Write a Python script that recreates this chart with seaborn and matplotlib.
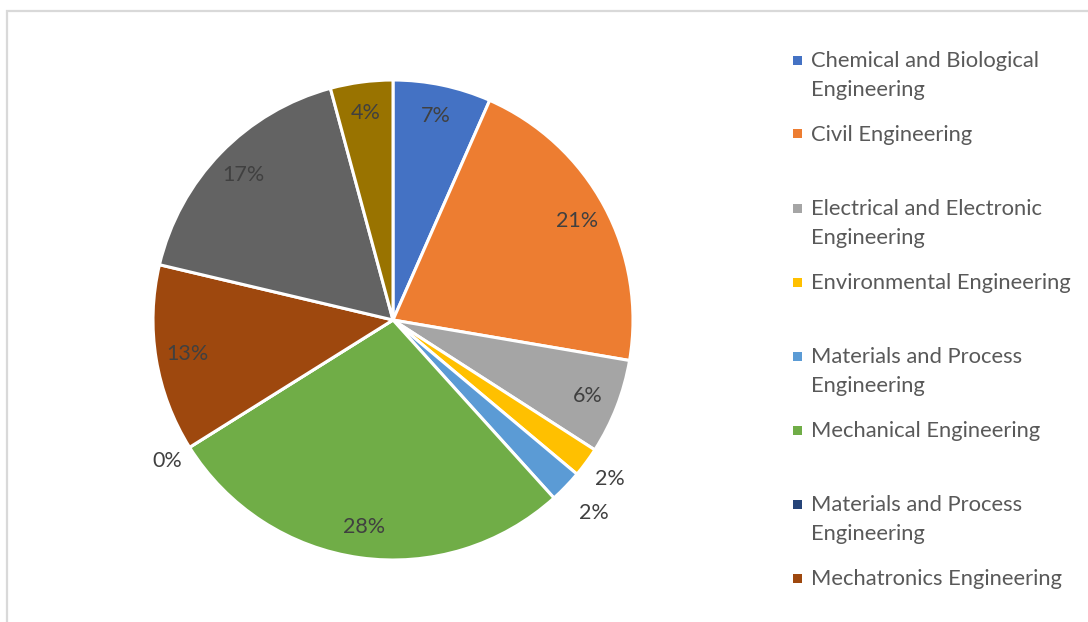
import matplotlib
matplotlib.use("Agg")
import matplotlib.pyplot as plt
from matplotlib.patches import Rectangle
import numpy as np
import seaborn as sns

# Share of students by engineering programme (percent), clockwise from 12 o'clock
programmes = [
    "Chemical and Biological\nEngineering",
    "Civil Engineering",
    "Electrical and Electronic\nEngineering",
    "Environmental Engineering",
    "Materials and Process\nEngineering",
    "Mechanical Engineering",
    "Materials and Process\nEngineering",
    "Mechatronics Engineering",
    "Software Engineering",
    "Engineering Science",
]
shares = [6.6, 21.1, 6.4, 2.0, 2.2, 27.8, 0.0, 12.6, 17.1, 4.2]
slice_colors = ["#4472C4", "#ED7D31", "#A5A5A5", "#FFC000", "#5B9BD5",
                "#70AD47", "#264478", "#9E480E", "#636363", "#997300"]
# only the first eight entries fit in the legend box
legend_count = 8

sns.set_theme(style="white")
plt.rcParams["font.family"] = ["Lato", "DejaVu Sans"]

W, H = 1088, 622
fig = plt.figure(figsize=(W / 100, H / 100), dpi=100)
fig.patch.set_facecolor("white")

# chart-area frame (left and top edges visible)
fig.add_artist(Rectangle((6.5 / W, -0.05), 1.2, 1.05 - 11 / H, transform=fig.transFigure,
                         fill=False, edgecolor="#D9D9D9", linewidth=1.6, clip_on=False))

cx, cy, R = 393, 320, 240
ax = fig.add_axes([(cx - R) / W, (H - cy - R) / H, 2 * R / W, 2 * R / H])
palette = sns.color_palette(slice_colors)

wedges, texts, autotexts = ax.pie(
    shares, colors=palette, startangle=90, counterclock=False,
    autopct="%.0f%%", pctdistance=0.87, radius=1.0,
    wedgeprops=dict(edgecolor="white", linewidth=2.2),
    textprops=dict(color="#404040", fontsize=15.5),
)
ax.set_xlim(-1, 1)
ax.set_ylim(-1, 1)
ax.set_aspect("equal")
ax.axis("off")

# small slices get their labels outside the pie
outside_r = {3: 1.12, 4: 1.16, 6: 1.11}
for i, (w, t) in enumerate(zip(wedges, autotexts)):
    if i in outside_r:
        ang = np.deg2rad((w.theta1 + w.theta2) / 2)
        r = outside_r[i]
        t.set_position((r * np.cos(ang), r * np.sin(ang)))

# legend: fixed-height rows, marker aligned with the first text line
row_top = 60
row_step = 74
line_step = 29
for i in range(legend_count):
    yc = row_top + i * row_step
    fig.add_artist(Rectangle((793 / W, 1 - (yc + 4.5) / H), 9 / W, 9 / H,
                             transform=fig.transFigure, facecolor=slice_colors[i],
                             edgecolor="none"))
    for j, line in enumerate(programmes[i].split("\n")):
        fig.text(811 / W, 1 - (yc + 1 + j * line_step) / H, line, ha="left", va="center",
                 color="#595959", fontsize=15.8)

fig.savefig("out.png", dpi=100, facecolor="white")
